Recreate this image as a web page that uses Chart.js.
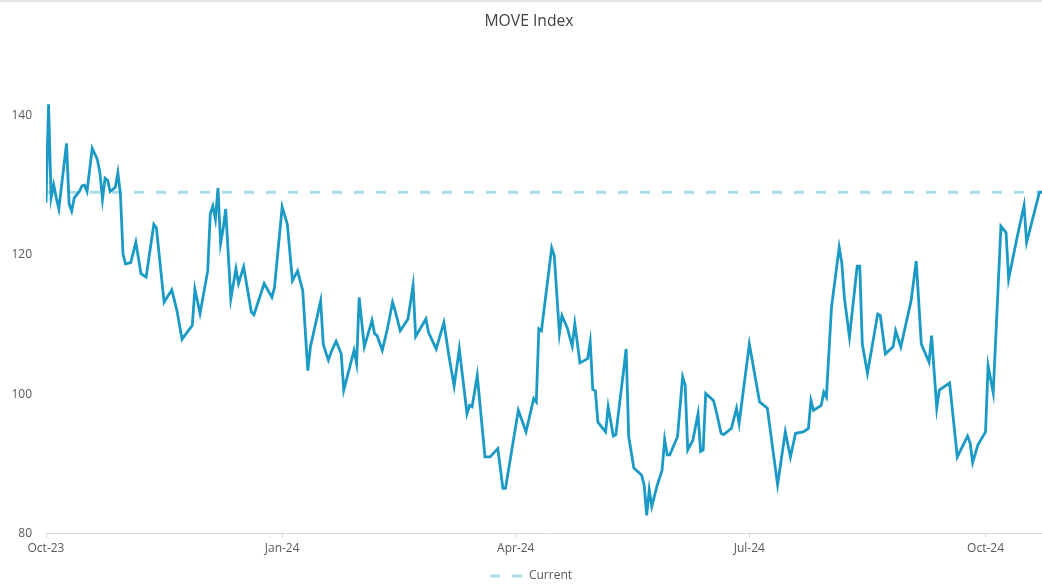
<!DOCTYPE html>
<html>
<head>
<meta charset="utf-8">
<title>MOVE Index</title>
<script src="https://cdn.jsdelivr.net/npm/chart.js@4.4.1/dist/chart.umd.min.js"></script>
<style>
  html, body { margin: 0; padding: 0; background: #fff; }
  #wrap { width: 1042px; height: 586px; position: relative; border-top: 2px solid #e4e4e4; box-sizing: border-box; }
</style>
</head>
<body>
<div id="wrap"><canvas id="moveChart"></canvas></div>
<script>
// MOVE index (turning points of the line)
const startDate = '2023-10-01';

const dates = [
  '2023-10-01','2023-10-02','2023-10-03','2023-10-04','2023-10-05','2023-10-06','2023-10-09','2023-10-10','2023-10-11','2023-10-12',
  '2023-10-14','2023-10-15','2023-10-16','2023-10-17','2023-10-19','2023-10-21','2023-10-22','2023-10-23','2023-10-24','2023-10-25',
  '2023-10-26','2023-10-28','2023-10-29','2023-10-30','2023-10-31','2023-11-01','2023-11-03','2023-11-05','2023-11-07','2023-11-09',
  '2023-11-12','2023-11-13','2023-11-16','2023-11-19','2023-11-21','2023-11-23','2023-11-27','2023-11-28','2023-11-30','2023-12-03',
  '2023-12-04','2023-12-05','2023-12-06','2023-12-07','2023-12-08','2023-12-09','2023-12-10','2023-12-12','2023-12-14','2023-12-15',
  '2023-12-17','2023-12-20','2023-12-21','2023-12-25','2023-12-28','2023-12-29','2024-01-01','2024-01-03','2024-01-05','2024-01-07',
  '2024-01-09','2024-01-11','2024-01-12','2024-01-16','2024-01-17','2024-01-18','2024-01-19','2024-01-20','2024-01-22','2024-01-24',
  '2024-01-25','2024-01-29','2024-01-30','2024-01-31','2024-02-02','2024-02-05','2024-02-06','2024-02-07','2024-02-09','2024-02-11',
  '2024-02-13','2024-02-14','2024-02-16','2024-02-19','2024-02-21','2024-02-22','2024-02-26','2024-02-27','2024-03-01','2024-03-04',
  '2024-03-06','2024-03-08','2024-03-10','2024-03-13','2024-03-14','2024-03-15','2024-03-17','2024-03-20','2024-03-22','2024-03-25',
  '2024-03-27','2024-03-28','2024-04-02','2024-04-05','2024-04-08','2024-04-09','2024-04-10','2024-04-11','2024-04-15','2024-04-16',
  '2024-04-18','2024-04-19','2024-04-21','2024-04-23','2024-04-24','2024-04-26','2024-04-29','2024-04-30','2024-05-01','2024-05-02',
  '2024-05-03','2024-05-06','2024-05-07','2024-05-09','2024-05-10','2024-05-14','2024-05-15','2024-05-17','2024-05-20','2024-05-21',
  '2024-05-22','2024-05-23','2024-05-24','2024-05-26','2024-05-28','2024-05-29','2024-05-30','2024-05-31','2024-06-03','2024-06-05',
  '2024-06-06','2024-06-07','2024-06-09','2024-06-11','2024-06-12','2024-06-13','2024-06-14','2024-06-17','2024-06-18','2024-06-20',
  '2024-06-21','2024-06-24','2024-06-26','2024-06-27','2024-07-01','2024-07-03','2024-07-05','2024-07-08','2024-07-12','2024-07-15',
  '2024-07-17','2024-07-19','2024-07-22','2024-07-24','2024-07-25','2024-07-26','2024-07-29','2024-07-30','2024-07-31','2024-08-02',
  '2024-08-05','2024-08-06','2024-08-07','2024-08-09','2024-08-12','2024-08-13','2024-08-14','2024-08-16','2024-08-20','2024-08-21',
  '2024-08-23','2024-08-26','2024-08-27','2024-08-29','2024-09-02','2024-09-04','2024-09-06','2024-09-09','2024-09-10','2024-09-12',
  '2024-09-13','2024-09-17','2024-09-20','2024-09-24','2024-09-25','2024-09-26','2024-09-28','2024-10-01','2024-10-02','2024-10-04',
  '2024-10-07','2024-10-09','2024-10-10','2024-10-13','2024-10-16','2024-10-17','2024-10-18','2024-10-22','2024-10-23'
];

const moveValues = [
  127.5,141.6,128.2,130.1,128.2,126.6,136.0,127.3,126.3,128.2,
  129.1,129.9,130.0,129.1,135.3,133.7,131.8,128.0,131.0,130.7,
  129.1,129.7,131.8,128.7,120.1,118.7,118.9,121.8,117.3,116.8,
  124.4,123.9,113.2,115.0,112.0,107.9,109.9,115.1,111.6,117.7,
  125.9,127.0,125.1,129.6,121.6,123.7,126.6,113.7,118.0,115.9,
  118.3,111.8,111.4,115.9,113.9,115.3,126.9,124.4,116.3,117.7,
  114.9,103.4,106.8,113.4,107.2,106.0,104.9,106.0,107.6,105.8,
  100.6,106.3,104.4,113.9,106.8,110.6,108.7,108.4,106.3,109.4,
  113.2,112.0,109.1,110.8,115.6,108.3,110.8,108.9,106.5,110.3,
  105.4,101.2,106.5,97.2,98.4,98.2,102.7,91.0,91.0,92.2,
  86.5,86.5,97.7,94.6,99.4,98.9,109.4,109.1,121.0,119.9,
  108.7,111.3,109.6,106.9,110.1,104.5,105.1,107.5,100.7,100.5,
  96.0,94.6,98.2,94.0,94.2,106.5,93.9,89.4,88.4,87.0,
  82.6,86.3,83.9,86.8,89.1,93.5,91.3,91.3,93.9,102.5,
  101.3,92.0,93.4,97.2,91.8,92.0,100.1,99.1,97.7,94.4,
  94.2,95.1,98.0,95.8,107.2,103.0,98.9,98.0,87.0,94.6,
  91.0,94.4,94.6,95.1,99.1,97.7,98.4,100.3,99.6,112.5,
  121.1,118.9,113.9,108.2,118.4,118.4,107.2,103.0,111.5,111.3,
  105.8,106.8,109.1,106.8,113.4,119.1,107.2,104.6,108.4,98.0,
  100.6,101.6,91.0,94.0,93.0,90.2,92.7,94.6,104.1,100.2,
  124.1,123.2,116.5,122.0,127.1,121.8,123.2,129.0,129.0
];

const xTickDates = ['2023-10-01','2024-01-01','2024-04-01','2024-07-01','2024-10-01'];
const xTickLabels = ['Oct-23','Jan-24','Apr-24','Jul-24','Oct-24'];
const yTicks = [80, 100, 120, 140];

const currentValue = moveValues[moveValues.length - 1];

function dayNum(s) {
  return (Date.parse(s) - Date.parse(startDate)) / 86400000;
}

const firstDay = dayNum(dates[0]);
const lastDay = dayNum(dates[dates.length - 1]);
const tickColor = '#595959';
const fontFam = "'Open Sans', 'Liberation Sans', sans-serif";
const currentDash = [10, 12];

// title and legend sit a little right of centre in the original
const nudgeBoxes = {
  id: 'nudgeBoxes',
  afterLayout(chart) {
    if (chart.legend) {
      chart.legend.left += 10;
      chart.legend.right += 10;
    }
    if (chart.titleBlock) {
      chart.titleBlock.left += 8;
      chart.titleBlock.right += 8;
    }
  }
};

new Chart(document.getElementById('moveChart'), {
  type: 'line',
  data: {
    datasets: [
      {
        label: 'MOVE',
        data: dates.map((d, i) => ({ x: dayNum(d), y: moveValues[i] })),
        borderColor: '#1b9ac6',
        backgroundColor: '#1b9ac6',
        borderWidth: 2.8,
        pointRadius: 0,
        tension: 0,
        order: 0
      },
      {
        label: 'Current',
        data: [{ x: firstDay, y: currentValue }, { x: lastDay, y: currentValue }],
        borderColor: '#a9dcea',
        backgroundColor: 'transparent',
        borderWidth: 3,
        borderDash: currentDash,
        pointRadius: 0,
        order: 1
      }
    ]
  },
  plugins: [nudgeBoxes],
  options: {
    responsive: true,
    maintainAspectRatio: false,
    animation: false,
    layout: { padding: { left: 0, right: 0, top: 4, bottom: -6 } },
    plugins: {
      title: {
        display: true,
        text: 'MOVE Index',
        color: '#404040',
        font: { size: 15.7, family: fontFam, weight: 'normal' },
        padding: { top: 6, bottom: 15 }
      },
      legend: {
        position: 'bottom',
        labels: {
          filter: item => item.text === 'Current',
          generateLabels: chart => {
            const items = Chart.defaults.plugins.legend.labels.generateLabels(chart);
            items.forEach(it => {
              const ds = chart.data.datasets[it.datasetIndex];
              it.lineDash = ds.borderDash || [];
              it.lineWidth = ds.borderWidth;
              it.strokeStyle = ds.borderColor;
            });
            return items;
          },
          usePointStyle: true,
          pointStyle: 'line',
          pointStyleWidth: 33,
          color: tickColor,
          font: { size: 12, family: fontFam },
          padding: 1
        }
      },
      tooltip: { enabled: false }
    },
    scales: {
      x: {
        type: 'linear',
        min: firstDay,
        max: lastDay,
        afterBuildTicks: axis => { axis.ticks = xTickDates.map(d => ({ value: dayNum(d) })); },
        afterFit: axis => { axis.height += 9; },
        ticks: {
          callback: (v, i) => xTickLabels[i],
          autoSkip: false,
          maxRotation: 0,
          color: tickColor,
          font: { size: 12, family: fontFam },
          padding: 4
        },
        grid: { drawOnChartArea: false, color: '#d9d9d9', tickLength: 4 },
        border: { color: '#d9d9d9', width: 1 }
      },
      y: {
        min: 80,
        max: 150,
        afterBuildTicks: axis => { axis.ticks = yTicks.map(v => ({ value: v })); },
        afterFit: axis => { axis.width = 46; },
        ticks: {
          color: tickColor,
          font: { size: 12, family: fontFam },
          padding: 14
        },
        grid: { display: false, drawTicks: false },
        border: { display: false }
      }
    }
  }
});
</script>
</body>
</html>
